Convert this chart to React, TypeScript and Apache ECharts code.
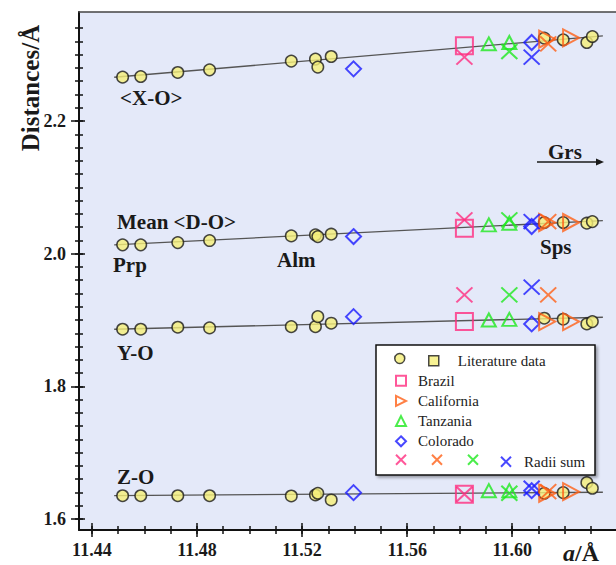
import React, { useEffect, useRef } from 'react';
import * as echarts from 'echarts';

// ---------- data ----------
const LIT_X = [11.4517, 11.4586, 11.4727, 11.4848, 11.5159, 11.5251, 11.526, 11.5311, 11.6122, 11.6194, 11.6284, 11.6305];
const LIT_XO = [2.2662, 2.2671, 2.2732, 2.2772, 2.2904, 2.2934, 2.2813, 2.2973, 2.325, 2.3225, 2.3184, 2.3274];
const LIT_MEAN = [2.0133, 2.0133, 2.0167, 2.0198, 2.0268, 2.0283, 2.0258, 2.0294, 2.047, 2.047, 2.046, 2.0484];
const LIT_YO = [1.8861, 1.8861, 1.8891, 1.8881, 1.89, 1.89, 1.9051, 1.8952, 1.9027, 1.9012, 1.8941, 1.8976];
const LIT_ZO = [1.6351, 1.6351, 1.6351, 1.6351, 1.6347, 1.6362, 1.6388, 1.6287, 1.6388, 1.6397, 1.6548, 1.6463];

const BRAZIL_X = [11.5818];
const BRAZIL = { xo: [2.3134], mean: [2.0385], yo: [1.8976], zo: [1.6373] };
const CALIF_X = [11.6133, 11.6224];
const CALIF = { xo: [2.3235, 2.3255], mean: [2.047, 2.047], yo: [1.8976, 1.8976], zo: [1.6388, 1.6412] };
const TANZ_X = [11.5911, 11.5989];
const TANZ = { xo: [2.3164, 2.3184], mean: [2.0434, 2.046], yo: [1.9001, 1.901], zo: [1.6427, 1.6427] };
const COLO_X = [11.5396, 11.6074];
const COLO = { xo: [2.2787, 2.3184], mean: [2.0258, 2.041], yo: [1.9051, 1.8941], zo: [1.6397, 1.6427] };

// radii sums (one x per locality)
const R_BRAZIL_X = 11.5818;
const R_BRAZIL = [2.2964, 2.051, 1.9379, 1.6373];
const R_CALIF_X = 11.6137;
const R_CALIF = [2.3164, 2.0484, 1.9379, 1.6412];
const R_TANZ_X = 11.5989;
const R_TANZ = [2.3048, 2.051, 1.9379, 1.6388];
const R_COLO_X = 11.6074;
const R_COLO = [2.2964, 2.0484, 1.9495, 1.6463];

// fitted lines (endpoints)
const FIT_X = [11.4485, 11.6345];
const FIT_XO = [2.266, 2.3285];
const FIT_MEAN = [2.0133, 2.05];
const FIT_YO = [1.8861, 1.9042];
const FIT_ZO = [1.6351, 1.6403];

// axes
const X_MIN = 11.4351;
const X_MAX = 11.6395;
const Y_MIN = 1.5834;
const Y_MAX = 2.3644;
const X_MAJOR = [11.44, 11.48, 11.52, 11.56, 11.6];
const Y_MAJOR = [1.6, 1.8, 2.0, 2.2];
const X_MINOR: number[] = [];
for (let i = 0; i <= 19; i++) X_MINOR.push(Math.round((11.44 + i * 0.01) * 100) / 100);
const Y_MINOR: number[] = [];
for (let i = 0; i <= 37; i++) Y_MINOR.push(Math.round((1.6 + i * 0.02) * 100) / 100);

// ---------- styles ----------
const SERIF = 'Liberation Serif, serif';
const PINK = '#ff2d80';
const ORANGE = '#ff6016';
const GREEN = '#1ee81e';
const BLUE = '#1a1aff';
const YELLOW = '#f5ef78';
const CROSS = 'path://M0,0L10,10M10,0L0,10';
const RTRI = 'path://M0,0L10,5L0,10Z';
const DIAM = 'path://M5,0L10,5L5,10L0,5Z';
const CLEAR = 'rgba(0,0,0,0)';

function pairs(xs: number[], rows: number[][]) {
  const out: number[][] = [];
  rows.forEach((r) => r.forEach((v, i) => out.push([xs[i], v])));
  return out;
}
function loc(xs: number[], o: { xo: number[]; mean: number[]; yo: number[]; zo: number[] }) {
  return pairs(xs, [o.xo, o.mean, o.yo, o.zo]);
}
function radii(x: number, ys: number[]) {
  return ys.map((y) => [x, y]);
}

export default function App() {
  const ref = useRef<HTMLDivElement>(null);
  useEffect(() => {
    if (!ref.current) return;
    const chart = echarts.init(ref.current, undefined, { renderer: 'svg' });

    const axisCommon = { type: 'value' as const, splitLine: { show: false } };
    const tickStyle = { color: '#111', width: 1.5 };

    const xAxes = [
      {
        ...axisCommon, min: X_MIN, max: X_MAX, position: 'bottom',
        axisLine: { show: true, lineStyle: { color: '#111', width: 2 } },
        axisTick: { show: true, customValues: X_MAJOR, length: 7, lineStyle: tickStyle },
        axisLabel: {
          show: true, customValues: X_MAJOR, formatter: (v: number) => v.toFixed(2), margin: 11,
          fontFamily: SERIF, fontWeight: 'bold', fontSize: 18, color: '#1a1a1a',
        },
      },
      {
        ...axisCommon, min: X_MIN, max: X_MAX, position: 'bottom',
        axisLine: { show: false },
        axisTick: { show: true, inside: true, customValues: X_MAJOR, length: 7, lineStyle: tickStyle },
        axisLabel: { show: false },
      },
      {
        ...axisCommon, min: X_MIN, max: X_MAX, position: 'bottom',
        axisLine: { show: false },
        axisTick: { show: true, customValues: X_MINOR, length: 4, lineStyle: tickStyle },
        axisLabel: { show: false },
      },
      {
        ...axisCommon, min: X_MIN, max: X_MAX, position: 'bottom',
        axisLine: { show: false },
        axisTick: { show: true, inside: true, customValues: X_MINOR, length: 4, lineStyle: tickStyle },
        axisLabel: { show: false },
      },
      {
        ...axisCommon, min: X_MIN, max: X_MAX, position: 'top',
        axisLine: { show: true, lineStyle: { color: '#444', width: 1.5 } },
        axisTick: { show: false },
        axisLabel: { show: false },
      },
    ];
    const yAxes = [
      {
        ...axisCommon, min: Y_MIN, max: Y_MAX, position: 'left',
        axisLine: { show: true, lineStyle: { color: '#111', width: 2 } },
        axisTick: { show: true, customValues: Y_MAJOR, length: 8, lineStyle: tickStyle },
        axisLabel: {
          show: true, customValues: Y_MAJOR, formatter: (v: number) => v.toFixed(1), margin: 13,
          fontFamily: SERIF, fontWeight: 'bold', fontSize: 18, color: '#1a1a1a',
        },
      },
      {
        ...axisCommon, min: Y_MIN, max: Y_MAX, position: 'left',
        axisLine: { show: false },
        axisTick: { show: true, inside: true, customValues: Y_MAJOR, length: 6, lineStyle: tickStyle },
        axisLabel: { show: false },
      },
      {
        ...axisCommon, min: Y_MIN, max: Y_MAX, position: 'left',
        axisLine: { show: false },
        axisTick: { show: true, customValues: Y_MINOR, length: 4, lineStyle: tickStyle },
        axisLabel: { show: false },
      },
      {
        ...axisCommon, min: Y_MIN, max: Y_MAX, position: 'left',
        axisLine: { show: false },
        axisTick: { show: true, inside: true, customValues: Y_MINOR, length: 4, lineStyle: tickStyle },
        axisLabel: { show: false },
      },
    ];

    const fitLine = (name: string, ys: number[]) => ({
      name, type: 'line', silent: true, symbol: 'none', z: 1,
      data: [[FIT_X[0], ys[0]], [FIT_X[1], ys[1]]],
      lineStyle: { color: '#555', width: 1.3 },
    });
    const open = (name: string, symbol: string, size: number | number[], color: string, data: number[][], z = 3) => ({
      name, type: 'scatter', symbol, symbolSize: size, z, data,
      itemStyle: { color: CLEAR, borderColor: color, borderWidth: 2 },
    });
    const legendText = (pad: number) => ({
      fontFamily: SERIF, fontSize: 15, lineHeight: 16, color: '#222', padding: [0, 0, 0, pad],
    });

    const option: any = {
      animation: false,
      grid: {
        left: 79, top: 12, width: 538, height: 518,
        show: true, backgroundColor: '#e4e9f9', borderWidth: 0,
      },
      xAxis: xAxes,
      yAxis: yAxes,
      legend: [
        {
          data: ['Lit'], left: 394, top: 352.7, padding: 0, itemWidth: 10, itemHeight: 10,
          formatter: () => '', selectedMode: false, z: 10,
          textStyle: legendText(0),
          itemStyle: { borderWidth: 1.5 },
        },
        {
          data: ['Literature data'], left: 428, top: 352.7, padding: 0, itemWidth: 10, itemHeight: 10,
          selectedMode: false, z: 10,
          textStyle: legendText(14),
          itemStyle: { borderWidth: 1.5 },
        },
        {
          data: ['Brazil', 'California', 'Tanzania', 'Colorado'], left: 395, top: 372.7, padding: 0,
          orient: 'vertical', itemGap: 4.2, itemWidth: 10, itemHeight: 10, selectedMode: false, z: 10,
          textStyle: legendText(7),
          itemStyle: { borderWidth: 2 },
        },
        {
          data: ['Brazil radii', 'California radii', 'Tanzania radii'], left: 395, top: 453.7, padding: 0,
          itemGap: 20, itemWidth: 10, itemHeight: 10, formatter: () => '', selectedMode: false, z: 10,
          textStyle: legendText(0),
          itemStyle: { borderWidth: 2 },
        },
        {
          data: ['Radii sum'], left: 500, top: 453.7, padding: 0, itemWidth: 10, itemHeight: 10,
          selectedMode: false, z: 10,
          textStyle: legendText(8),
          itemStyle: { borderWidth: 2 },
        },
      ],
      series: [
        fitLine('fit X-O', FIT_XO),
        fitLine('fit Mean', FIT_MEAN),
        fitLine('fit Y-O', FIT_YO),
        fitLine('fit Z-O', FIT_ZO),
        open('Brazil', 'rect', 17, PINK, loc(BRAZIL_X, BRAZIL)),
        open('Tanzania', 'triangle', [14, 13], GREEN, loc(TANZ_X, TANZ)),
        open('Colorado', DIAM, 15, BLUE, loc(COLO_X, COLO)),
        {
          name: 'Lit', type: 'scatter', symbol: 'circle', symbolSize: 11.5, z: 4,
          data: pairs(LIT_X, [LIT_XO, LIT_MEAN, LIT_YO, LIT_ZO]),
          itemStyle: { color: YELLOW, borderColor: '#1a1a1a', borderWidth: 1.5 },
        },
        {
          name: 'Literature data', type: 'scatter', symbol: 'rect', symbolSize: 10, z: 4,
          data: [],
          itemStyle: { color: YELLOW, borderColor: '#1a1a1a', borderWidth: 1.5 },
        },
        open('California', RTRI, [16, 17], ORANGE, loc(CALIF_X, CALIF), 5),
        open('Brazil radii', CROSS, [16, 15], PINK, radii(R_BRAZIL_X, R_BRAZIL), 5),
        open('California radii', CROSS, [16, 15], ORANGE, radii(R_CALIF_X, R_CALIF), 5),
        open('Tanzania radii', CROSS, [16, 15], GREEN, radii(R_TANZ_X, R_TANZ), 5),
        open('Radii sum', CROSS, [16, 15], BLUE, radii(R_COLO_X, R_COLO), 5),
      ],
      graphic: [
        {
          type: 'rect', z: 5,
          shape: { x: 376, y: 345, width: 219, height: 130 },
          style: {
            fill: '#ffffff', stroke: '#111', lineWidth: 1.5,
            shadowBlur: 3, shadowColor: 'rgba(0,0,0,0.35)', shadowOffsetX: 2, shadowOffsetY: 2,
          },
        },
        ...[
          ['<X-O>', 120, 98],
          ['Mean <D-O>', 117, 222],
          ['Prp', 113, 265],
          ['Alm', 277, 260],
          ['Sps', 540, 247],
          ['Y-O', 117, 353],
          ['Z-O', 117, 477],
          ['Grs', 548, 152],
        ].map(([t, x, y]) => ({
          type: 'text', x, y, z: 6,
          style: {
            text: t, font: `bold 21px ${SERIF}`, fill: '#1a1a1a',
            align: 'left', verticalAlign: 'middle',
          },
        })),
        {
          type: 'line', z: 6,
          shape: { x1: 537, y1: 162, x2: 597, y2: 162 },
          style: { stroke: '#1a1a1a', lineWidth: 1.5 },
        },
        {
          type: 'polygon', z: 6,
          shape: { points: [[596, 158.5], [604, 162], [596, 165.5]] },
          style: { fill: '#1a1a1a' },
        },
        {
          type: 'text', x: 30, y: 88, rotation: Math.PI / 2, z: 6,
          style: {
            text: 'Distances/Å', font: `bold 25px ${SERIF}`, fill: '#1a1a1a',
            align: 'center', verticalAlign: 'middle',
          },
        },
        {
          type: 'text', x: 563, y: 553, z: 6,
          style: {
            text: '{i|a}{b|/Å}', align: 'left', verticalAlign: 'middle', fill: '#1a1a1a',
            rich: {
              i: { font: `italic bold 24px ${SERIF}`, fill: '#1a1a1a' },
              b: { font: `bold 24px ${SERIF}`, fill: '#1a1a1a' },
            },
          },
        },
      ],
    };
    chart.setOption(option);
    return () => chart.dispose();
  }, []);
  return (
    <div
      ref={ref}
      style={{ position: 'absolute', left: 0, top: 0, width: 616, height: 565, background: '#fff' }}
    />
  );
}
